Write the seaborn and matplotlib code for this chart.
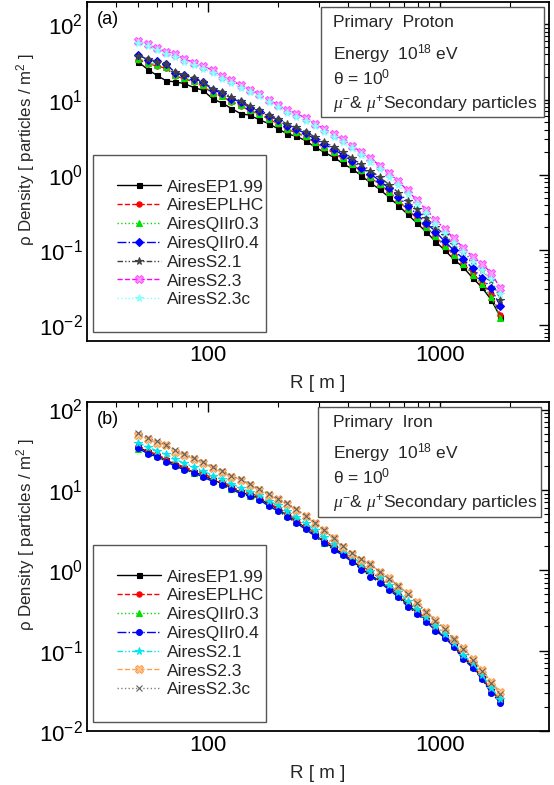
import matplotlib
matplotlib.use("Agg")
import matplotlib.pyplot as plt
import seaborn as sns
import pandas as pd
from matplotlib.ticker import LogLocator, FixedLocator, NullFormatter, LogFormatterSciNotation
from matplotlib.patches import Rectangle

# ---------------- data ----------------
R = [50, 55, 60, 66, 72, 79, 87, 95, 105, 115, 126, 138, 151, 166, 182, 200, 219, 240,
     263, 288, 316, 347, 380, 417, 457, 501, 550, 603, 661, 724, 794, 871, 955, 1047,
     1148, 1259, 1380, 1514, 1660, 1820]

names = ["AiresEP1.99", "AiresEPLHC", "AiresQIIr0.3", "AiresQIIr0.4",
         "AiresS2.1", "AiresS2.3", "AiresS2.3c"]

# panel (a) : Primary Proton
A_EP199 = [31.5, 25, 21, 17.7, 17.2, 16.3, 14.4, 13.3, 10.1, 9.0, 7.6, 6.5, 6.2, 5.4, 4.8, 4.1, 3.5,
           3.25, 2.85, 2.35, 2.0, 1.72, 1.42, 1.2, 0.98, 0.78, 0.64, 0.5, 0.39, 0.3, 0.228, 0.175,
           0.13, 0.1, 0.075, 0.059, 0.043, 0.032, 0.022, 0.0129]
A_EPLHC = [34, 30, 28, 26, 20.5, 19, 17, 15, 12, 11, 9.3, 8.3, 7.1, 6.4, 5.5, 4.8, 4.0,
           3.65, 3.2, 2.7, 2.3, 1.95, 1.65, 1.38, 1.12, 0.92, 0.74, 0.59, 0.455, 0.345, 0.265, 0.2,
           0.152, 0.113, 0.086, 0.067, 0.049, 0.037, 0.026, 0.0138]
A_QII03 = [35, 31, 29, 27, 21, 19.5, 17.5, 15.5, 12.3, 11.2, 9.6, 8.5, 7.3, 6.5, 5.6, 4.9, 4.1,
           3.7, 3.25, 2.75, 2.35, 2.0, 1.7, 1.4, 1.15, 0.93, 0.75, 0.6, 0.46, 0.35, 0.27, 0.205,
           0.155, 0.115, 0.086, 0.066, 0.047, 0.035, 0.024, 0.0125]
A_QII04 = [38.7, 34, 32.5, 30, 22.5, 21, 19, 17.1, 13.3, 12.2, 10.3, 9.3, 7.8, 7.05, 6.0, 5.4, 4.4,
           4.05, 3.55, 3.0, 2.55, 2.2, 1.84, 1.53, 1.25, 1.03, 0.83, 0.66, 0.51, 0.39, 0.30, 0.23,
           0.176, 0.131, 0.099, 0.077, 0.057, 0.043, 0.031, 0.018]
A_S21 = [38, 35, 31.5, 29.5, 23, 21.5, 19.5, 17, 14, 12.6, 10.8, 9.6, 8.2, 7.3, 6.3, 5.6, 4.7,
         4.3, 3.75, 3.2, 2.75, 2.35, 2.0, 1.68, 1.38, 1.14, 0.93, 0.74, 0.58, 0.45, 0.35, 0.27,
         0.205, 0.158, 0.12, 0.095, 0.072, 0.055, 0.04, 0.022]
A_S23 = [60, 54, 48, 43, 40, 34.5, 31, 27.7, 24.5, 20.5, 18, 15.5, 13.6, 12, 10, 8.6, 7.3,
         6.5, 5.7, 4.8, 4.1, 3.5, 2.95, 2.45, 2.0, 1.65, 1.33, 1.05, 0.82, 0.62, 0.46, 0.345,
         0.255, 0.19, 0.143, 0.108, 0.082, 0.066, 0.05, 0.031]
A_S23c = [56, 51, 45, 40, 37, 32, 28.5, 25.5, 22.5, 19, 16.6, 14.3, 12.5, 11, 9.2, 7.9, 6.7,
          5.9, 5.2, 4.4, 3.75, 3.2, 2.7, 2.24, 1.82, 1.5, 1.2, 0.95, 0.74, 0.56, 0.41, 0.31,
          0.225, 0.167, 0.125, 0.093, 0.07, 0.055, 0.041, 0.026]

# panel (b) : Primary Iron
B_EP199 = [34.1, 29.6, 26.6, 23.5, 20.6, 18.5, 16.5, 15.2, 13.2, 12.0, 10.6, 9.35, 8.6, 7.92,
           6.6, 5.74, 4.8, 4.06, 3.36, 2.77, 2.25, 1.9, 1.6, 1.34, 1.06, 0.863, 0.74, 0.598,
           0.484, 0.371, 0.302, 0.241, 0.183, 0.149, 0.114, 0.0806, 0.0642, 0.046, 0.0314, 0.0242]
B_EPLHC = [35.5, 30.5, 27.6, 24.1, 21.2, 19.3, 17.2, 16.4, 13.6, 12.7, 10.95, 9.72, 9.25, 8.2,
           6.88, 5.93, 5.18, 4.24, 3.59, 2.95, 2.34, 2.03, 1.71, 1.4, 1.13, 0.97, 0.79, 0.632,
           0.51, 0.397, 0.318, 0.25, 0.191, 0.154, 0.118, 0.0847, 0.0666, 0.0476, 0.0322, 0.0242]
B_QII03 = [32.6, 28.6, 26.1, 22.9, 20.3, 18.1, 16.4, 14.8, 12.9, 11.8, 10.4, 9.15, 8.4, 7.73,
           6.41, 5.66, 4.71, 3.97, 3.31, 2.72, 2.21, 1.85, 1.58, 1.31, 1.04, 0.863, 0.721, 0.589,
           0.475, 0.363, 0.293, 0.237, 0.181, 0.147, 0.114, 0.0806, 0.0633, 0.0452, 0.0306, 0.0242]
B_QII04 = [33.0, 28.0, 25.9, 22.4, 19.8, 17.7, 16.2, 14.4, 12.7, 11.5, 10.2, 8.96, 8.3, 7.54,
           6.31, 5.46, 4.62, 3.87, 3.22, 2.67, 2.17, 1.81, 1.54, 1.28, 1.02, 0.836, 0.703, 0.572,
           0.462, 0.354, 0.289, 0.23, 0.178, 0.145, 0.111, 0.078, 0.0616, 0.0444, 0.0298, 0.0226]
B_S21 = [38.4, 34.0, 30.6, 27.6, 24.2, 21.3, 19.3, 17.2, 15.0, 13.6, 11.9, 10.6, 9.54, 8.68,
         7.35, 6.41, 5.46, 4.62, 3.87, 3.17, 2.58, 2.14, 1.8, 1.49, 1.2, 0.977, 0.816, 0.659,
         0.536, 0.415, 0.332, 0.263, 0.202, 0.163, 0.125, 0.089, 0.07, 0.0502, 0.0346, 0.025]
B_S23 = [48.3, 42.7, 38.7, 36.3, 29.9, 27.2, 24.1, 21.6, 18.6, 16.9, 14.6, 13.4, 11.6, 10.0,
         8.67, 7.63, 6.68, 5.65, 4.71, 3.87, 3.13, 2.49, 1.93, 1.58, 1.36, 1.18, 0.96, 0.796,
         0.642, 0.52, 0.405, 0.306, 0.241, 0.191, 0.141, 0.109, 0.0789, 0.0576, 0.0412, 0.0306]
B_S23c = [51.3, 44.3, 40.4, 36.5, 31.0, 28.1, 24.7, 22.3, 19.2, 17.3, 15.0, 13.6, 11.8, 10.3,
          8.86, 7.72, 6.77, 5.75, 4.8, 3.92, 3.17, 2.53, 1.98, 1.62, 1.38, 1.18, 0.95, 0.783,
          0.633, 0.511, 0.397, 0.302, 0.236, 0.185, 0.138, 0.106, 0.0765, 0.056, 0.0395, 0.0289]

panel_a = [A_EP199, A_EPLHC, A_QII03, A_QII04, A_S21, A_S23, A_S23c]
panel_b = [B_EP199, B_EPLHC, B_QII03, B_QII04, B_S21, B_S23, B_S23c]

# ---------------- style ----------------
sns.set_theme(style="white")
plt.rcParams["font.family"] = ["Liberation Sans", "DejaVu Sans"]
plt.rcParams["mathtext.fontset"] = "custom"
plt.rcParams["mathtext.rm"] = "Liberation Sans"
plt.rcParams["mathtext.it"] = "Liberation Serif:italic"
plt.rcParams["mathtext.default"] = "regular"

DASHDOTDOT = (0, (4, 1.5, 1, 1.5, 1, 1.5))
style_a = [
    dict(color="black", ls="-", marker="s", ms=3.6, mfc="black", mec="black"),
    dict(color="red", ls="--", marker="o", ms=3.8, mfc="red", mec="red"),
    dict(color="#00e000", ls=":", marker="^", ms=4.2, mfc="#00e000", mec="#00e000"),
    dict(color="blue", ls="-.", marker="D", ms=3.8, mfc="blue", mec="blue"),
    dict(color="#404040", ls=DASHDOTDOT, marker="*", ms=5.5, mfc="#404040", mec="#404040"),
    dict(color="#ff00ff", ls="--", marker="X", ms=5.8, mfc="#ff99ff", mec="#ff55ff"),
    dict(color="#80ffff", ls=":", marker="*", ms=5.5, mfc="#b0ffff", mec="#80ffff"),
]
style_b = [
    dict(color="black", ls="-", marker="s", ms=3.6, mfc="black", mec="black"),
    dict(color="red", ls="--", marker="o", ms=3.8, mfc="red", mec="red"),
    dict(color="#00e000", ls=":", marker="^", ms=4.2, mfc="#00e000", mec="#00e000"),
    dict(color="blue", ls="-.", marker="o", ms=4.2, mfc="blue", mec="blue"),
    dict(color="#00e5ee", ls=DASHDOTDOT, marker="*", ms=5.5, mfc="#00e5ee", mec="#00e5ee"),
    dict(color="#ffa050", ls="--", marker="X", ms=5.8, mfc="#ffc890", mec="#ffa050"),
    dict(color="#808080", ls=":", marker="x", ms=4.8, mfc="#808080", mec="#606060"),
]

W, H = 554, 785
LEFT, RIGHT = 87, 549


def add_axes(top, bottom):
    return fig.add_axes([LEFT / W, 1 - bottom / H, (RIGHT - LEFT) / W, (bottom - top) / H])


fig = plt.figure(figsize=(W / 100, H / 100), dpi=100)
ax_a = add_axes(2, 341)
ax_b = add_axes(402, 731)


def draw_panel(ax, top, bottom, series, styles, tag, primary, ylim, text_rows,
               box_rows, ylabel_center):
    h = bottom - top

    def fy(py):
        return 1 - (py - top) / h

    def fx(px):
        return (px - LEFT) / (RIGHT - LEFT)

    for name, vals, st in zip(names, series, styles):
        df = pd.DataFrame({"R": R, "rho": vals})
        sns.lineplot(data=df, x="R", y="rho", ax=ax, estimator=None, sort=False,
                     color=st["color"], linestyle=st["ls"], linewidth=1.0,
                     marker=st["marker"], markersize=st["ms"],
                     markerfacecolor=st["mfc"], markeredgecolor=st["mec"],
                     markeredgewidth=0.8, label=name, legend=False)
    ax.set_xscale("log")
    ax.set_yscale("log")
    ax.set_xlim(30, 2950)
    ax.set_ylim(*ylim)
    ax.xaxis.set_major_locator(FixedLocator([100, 1000]))
    ax.set_xticklabels(["100", "1000"])
    ax.xaxis.set_minor_locator(LogLocator(base=10, subs=range(2, 10), numticks=20))
    ax.xaxis.set_minor_formatter(NullFormatter())
    ax.yaxis.set_major_locator(FixedLocator([1e-2, 1e-1, 1, 10, 100]))
    ax.yaxis.set_major_formatter(LogFormatterSciNotation())
    ax.yaxis.set_minor_locator(LogLocator(base=10, subs=range(2, 10), numticks=20))
    ax.yaxis.set_minor_formatter(NullFormatter())
    ax.tick_params(which="both", direction="in", top=True, right=True, colors="black")
    ax.tick_params(which="major", length=7, width=1.0, labelsize=16, pad=3)
    ax.tick_params(which="minor", length=3.5, width=0.8)
    for sp in ax.spines.values():
        sp.set_color("black")
        sp.set_linewidth(1.3)
    ax.set_xlabel("R [ m ]", fontsize=13.5)
    ax.xaxis.set_label_coords(0.5, 1 - (bottom + 34 - top) / h)
    ax.set_ylabel(r"$\rho$ Density [ particles / m$^2$ ]", fontsize=12.2)
    ax.yaxis.set_label_coords(-0.108, fy(ylabel_center))

    handles = ax.get_lines()[:len(names)]
    leg = ax.legend(handles, names, loc="lower left",
                    bbox_to_anchor=(fx(92.7), fy(bottom - 9), fx(266) - fx(92.7), 0.6),
                    mode="expand", borderaxespad=0, fontsize=12.5, frameon=True,
                    fancybox=False, framealpha=1, edgecolor="#555555", borderpad=1.42,
                    labelspacing=0.21, handlelength=2.5, handletextpad=0.35)
    leg.get_frame().set_linewidth(1.0)

    ax.text(fx(97), fy(top + 17), tag, transform=ax.transAxes, fontsize=13,
            ha="left", va="center", color="black")
    bx0, bx1, by0, by1 = box_rows
    ax.add_patch(Rectangle((fx(bx0), fy(by1)), fx(bx1) - fx(bx0), fy(by0) - fy(by1),
                           transform=ax.transAxes, facecolor="white",
                           edgecolor="#555555", linewidth=1.0, zorder=5))
    tx = fx(333)
    lines = ["Primary  " + primary,
             r"Energy  10$^{18}$ eV",
             r"$\theta$ = 10$^{0}$",
             r"$\mathit{\mu}^{-}$& $\mathit{\mu}^{+}$Secondary particles"]
    for s, py in zip(lines, text_rows):
        ax.text(tx, fy(py), s, transform=ax.transAxes, fontsize=12.5,
                va="center", zorder=6)


draw_panel(ax_a, 2, 341, panel_a, style_a, "(a)", "Proton", (0.0062, 198),
           [23, 54, 77, 104], (321, 544, 7, 117), 150)
draw_panel(ax_b, 402, 731, panel_b, style_b, "(b)", "Iron", (0.01, 124),
           [423, 453, 476, 503], (318, 541, 407, 517), 535)

fig.savefig("out.png", dpi=100)
